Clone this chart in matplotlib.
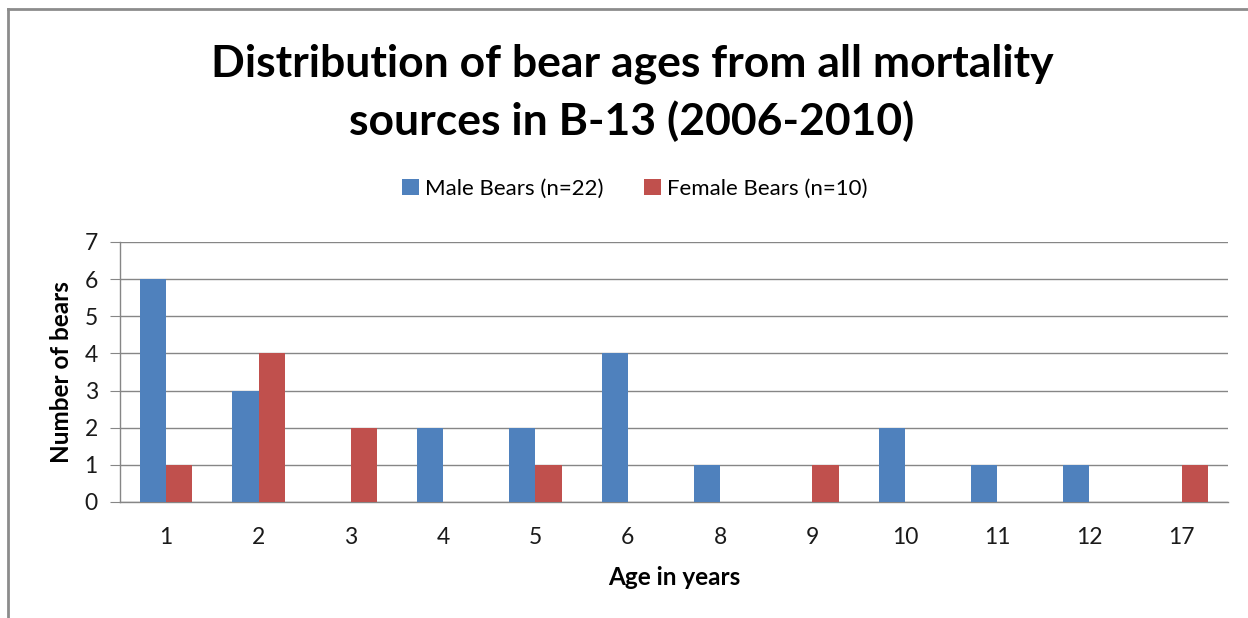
import matplotlib
matplotlib.use('Agg')
import matplotlib.pyplot as plt
from matplotlib.lines import Line2D
import numpy as np

plt.rcParams['font.family'] = ['Lato', 'DejaVu Sans']

# data
ages = ['1', '2', '3', '4', '5', '6', '8', '9', '10', '11', '12', '17']
male = [6, 3, 0, 2, 2, 4, 1, 0, 2, 1, 1, 0]
female = [1, 4, 2, 0, 1, 0, 0, 1, 0, 0, 0, 1]

male_label = 'Male Bears (n=22)'
female_label = 'Female Bears (n=10)'
title = 'Distribution of bear ages from all mortality\nsources in B-13 (2006-2010)'

W, H = 1248, 618
fig = plt.figure(figsize=(W / 100, H / 100), dpi=100)
ax = fig.add_axes([120 / W, (H - 502) / H, 1108 / W, 260 / H])

grey = '#868686'
x = np.arange(len(ages))
bw = 0.283
ax.bar(x - bw / 2, male, bw, color='#4F81BD', label=male_label, zorder=3)
ax.bar(x + bw / 2, female, bw, color='#C0504D', label=female_label, zorder=3)

ax.set_xlim(-0.5, len(ages) - 0.5)
ax.set_ylim(0, 7)
ax.set_yticks(range(0, 8))
ax.set_xticks(x)
ax.set_xticklabels(ages)
ax.yaxis.grid(True, color=grey, linewidth=1, zorder=0)

for s in ['top', 'right']:
    ax.spines[s].set_visible(False)
for s in ['left', 'bottom']:
    ax.spines[s].set_color(grey)
    ax.spines[s].set_linewidth(1)

ax.tick_params(axis='y', length=7, color=grey, labelsize=16.5, pad=9, labelcolor='#1a1a1a')
ax.tick_params(axis='x', length=0, labelsize=16.5, pad=18, labelcolor='#1a1a1a')

ax.set_ylabel('Number of bears', fontsize=17.5, fontweight='bold', labelpad=8)
ax.set_xlabel('Age in years', fontsize=17.5, fontweight='bold', labelpad=13)

fig.text(632 / W, 1 - 93 / H, title, ha='center', va='center', fontsize=32,
         fontweight='bold', linespacing=1.48)

leg = fig.legend(loc='center', bbox_to_anchor=(635 / W, 1 - 189 / H), ncol=2,
                 frameon=False, fontsize=16, handlelength=0.75, handleheight=0.75,
                 handletextpad=0.3, columnspacing=1.8)

# chart border (top and left edges visible)
fig.add_artist(Line2D([8 / W, 8 / W], [0, 1 - 9 / H], color='#8c8c8c', linewidth=2,
                      transform=fig.transFigure))
fig.add_artist(Line2D([8 / W, 1], [1 - 9 / H, 1 - 9 / H], color='#8c8c8c', linewidth=2,
                      transform=fig.transFigure))

fig.savefig('out.png', dpi=100)
